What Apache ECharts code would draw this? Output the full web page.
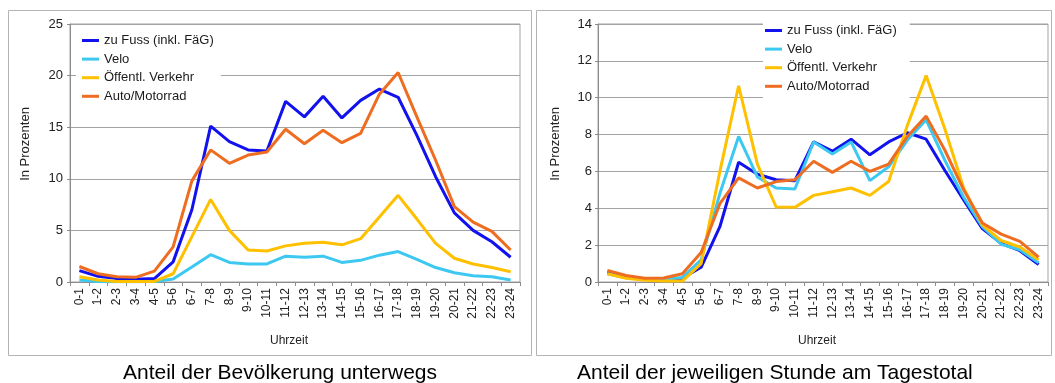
<!DOCTYPE html>
<html>
<head>
<meta charset="utf-8">
<script src="https://cdn.jsdelivr.net/npm/echarts@6/dist/echarts.min.js"></script>
<style>
html,body{margin:0;padding:0;background:#fff;}
#c{width:1055px;height:383px;}
</style>
</head>
<body>
<div id="c"></div>
<script>
const categories = ['0-1','1-2','2-3','3-4','4-5','5-6','6-7','7-8','8-9','9-10','10-11','11-12','12-13','13-14','14-15','15-16','16-17','17-18','18-19','19-20','20-21','21-22','22-23','23-24'];
const seriesNames = ['zu Fuss (inkl. FäG)', 'Velo', 'Öffentl. Verkehr', 'Auto/Motorrad'];

// Left: Anteil der Bevölkerung unterwegs
const fussL = [1.1, 0.55, 0.33, 0.27, 0.33, 1.95, 7.0, 15.1, 13.6, 12.8, 12.7, 17.5, 16.0, 18.0, 15.9, 17.6, 18.7, 17.9, 14.2, 10.2, 6.7, 5.0, 3.9, 2.4];
const veloL = [0.2, 0.05, 0.02, 0.02, 0.05, 0.3, 1.45, 2.65, 1.9, 1.75, 1.75, 2.5, 2.4, 2.5, 1.9, 2.1, 2.6, 2.95, 2.2, 1.4, 0.9, 0.6, 0.5, 0.2];
const oevL  = [0.5, 0.2, 0.05, 0.05, 0.05, 0.8, 4.4, 8.0, 5.0, 3.1, 3.0, 3.5, 3.75, 3.85, 3.6, 4.2, 6.3, 8.4, 6.1, 3.75, 2.3, 1.75, 1.4, 1.0];
const autoL = [1.5, 0.8, 0.5, 0.45, 1.05, 3.4, 9.8, 12.8, 11.5, 12.3, 12.6, 14.8, 13.4, 14.7, 13.5, 14.4, 18.2, 20.3, 16.0, 11.8, 7.3, 5.8, 4.9, 3.1];

// Right: Anteil der jeweiligen Stunde am Tagestotal
const fussR = [0.54, 0.27, 0.15, 0.15, 0.2, 0.8, 3.0, 6.5, 5.85, 5.55, 5.5, 7.6, 7.1, 7.75, 6.9, 7.6, 8.1, 7.75, 6.05, 4.45, 2.9, 2.1, 1.7, 0.95];
const veloR = [0.45, 0.23, 0.15, 0.15, 0.25, 1.2, 4.8, 7.9, 5.7, 5.1, 5.05, 7.6, 6.95, 7.6, 5.5, 6.25, 7.7, 8.8, 6.6, 4.6, 3.0, 2.05, 1.75, 1.05];
const oevR  = [0.45, 0.2, 0.1, 0.05, 0.05, 1.0, 6.0, 10.65, 6.4, 4.07, 4.05, 4.7, 4.9, 5.1, 4.7, 5.45, 8.5, 11.2, 8.3, 5.1, 3.1, 2.25, 1.9, 1.2];
const autoR = [0.63, 0.35, 0.2, 0.22, 0.45, 1.6, 4.25, 5.65, 5.1, 5.45, 5.55, 6.55, 5.95, 6.55, 6.0, 6.4, 7.9, 9.0, 7.15, 5.0, 3.2, 2.6, 2.2, 1.35];

const titles = ['Anteil der Bevölkerung unterwegs', 'Anteil der jeweiligen Stunde am Tagestotal'];
const yName = 'In Prozenten';
const xName = 'Uhrzeit';

const colors = ['#1212ee', '#3cc8f0', '#ffc000', '#ee6d21'];
const FONT = '"Liberation Sans", Arial, sans-serif';

function mkX(gi) {
  return {
    type: 'category', gridIndex: gi, data: categories, boundaryGap: true,
    axisLine: { lineStyle: { color: '#8c8c8c', width: 1 } },
    axisTick: { show: true, length: 4, lineStyle: { color: '#8c8c8c' } },
    axisLabel: { rotate: 90, interval: 0, fontSize: 12, color: '#222', margin: 6, fontFamily: FONT },
    splitLine: { show: false }
  };
}
function mkY(gi, max, interval, margin) {
  return {
    type: 'value', gridIndex: gi, min: 0, max: max, interval: interval,
    axisLine: { show: true, lineStyle: { color: '#8c8c8c', width: 1 } },
    axisTick: { show: true, length: 3, lineStyle: { color: '#8c8c8c' } },
    axisLabel: { fontSize: 13, color: '#222', margin: margin, fontFamily: FONT },
    splitLine: { show: true, lineStyle: { color: '#a3a3a3', width: 1 } }
  };
}
function mkS(name, data, gi, ci) {
  return {
    type: 'line', name: name, data: data, xAxisIndex: gi, yAxisIndex: gi,
    symbol: 'none', smooth: false, silent: true,
    lineStyle: { color: colors[ci], width: 3 },
    itemStyle: { color: colors[ci] },
    animation: false
  };
}
function mkLegend(left, top, padding) {
  return {
    orient: 'vertical', left: left, top: top, padding: padding,
    icon: 'rect', itemWidth: 17, itemHeight: 3, itemGap: 5.6,
    backgroundColor: '#ffffff', data: seriesNames,
    textStyle: { fontSize: 13, color: '#1a1a1a', fontFamily: FONT, lineHeight: 13 },
    selectedMode: false
  };
}

const chart = echarts.init(document.getElementById('c'), null, { renderer: 'canvas' });
chart.setOption({
  animation: false,
  backgroundColor: '#ffffff',
  textStyle: { fontFamily: FONT },
  grid: [
    { left: 70, right: 535, top: 24, height: 258, show: true, borderColor: '#a3a3a3', borderWidth: 1, backgroundColor: '#fff' },
    { left: 598, right: 7, top: 24, height: 258, show: true, borderColor: '#a3a3a3', borderWidth: 1, backgroundColor: '#fff' }
  ],
  xAxis: [mkX(0), mkX(1)],
  yAxis: [mkY(0, 25, 5, 7), mkY(1, 14, 2, 6)],
  legend: [
    mkLegend(76, 28, [6, 7, 6, 6]),
    mkLegend(763, 19, [5, 13, 6, 2])
  ],
  series: [
    mkS(seriesNames[0], fussL, 0, 0),
    mkS(seriesNames[1], veloL, 0, 1),
    mkS(seriesNames[2], oevL, 0, 2),
    mkS(seriesNames[3], autoL, 0, 3),
    mkS(seriesNames[0], fussR, 1, 0),
    mkS(seriesNames[1], veloR, 1, 1),
    mkS(seriesNames[2], oevR, 1, 2),
    mkS(seriesNames[3], autoR, 1, 3)
  ],
  graphic: [
    { type: 'rect', z: -10, shape: { x: 8.5, y: 10.5, width: 523, height: 345 }, style: { fill: null, stroke: '#b4b4b4', lineWidth: 1 } },
    { type: 'rect', z: -10, shape: { x: 536.5, y: 10.5, width: 515, height: 345 }, style: { fill: null, stroke: '#b4b4b4', lineWidth: 1 } },
    { type: 'text', x: 25, y: 144, rotation: Math.PI / 2, style: { text: yName, fontSize: 13, fill: '#222', align: 'center', verticalAlign: 'middle', fontFamily: FONT } },
    { type: 'text', x: 555, y: 144, rotation: Math.PI / 2, style: { text: yName, fontSize: 13, fill: '#222', align: 'center', verticalAlign: 'middle', fontFamily: FONT } },
    { type: 'text', x: 289, y: 341, style: { text: xName, fontSize: 12, fill: '#222', align: 'center', verticalAlign: 'middle', fontFamily: FONT } },
    { type: 'text', x: 817, y: 341, style: { text: xName, fontSize: 12, fill: '#222', align: 'center', verticalAlign: 'middle', fontFamily: FONT } },
    { type: 'text', x: 123, y: 373, style: { text: titles[0], fontSize: 21, fill: '#000', align: 'left', verticalAlign: 'middle', fontFamily: FONT } },
    { type: 'text', x: 577, y: 373, style: { text: titles[1], fontSize: 21, fill: '#000', align: 'left', verticalAlign: 'middle', fontFamily: FONT } }
  ]
});
</script>
</body>
</html>
